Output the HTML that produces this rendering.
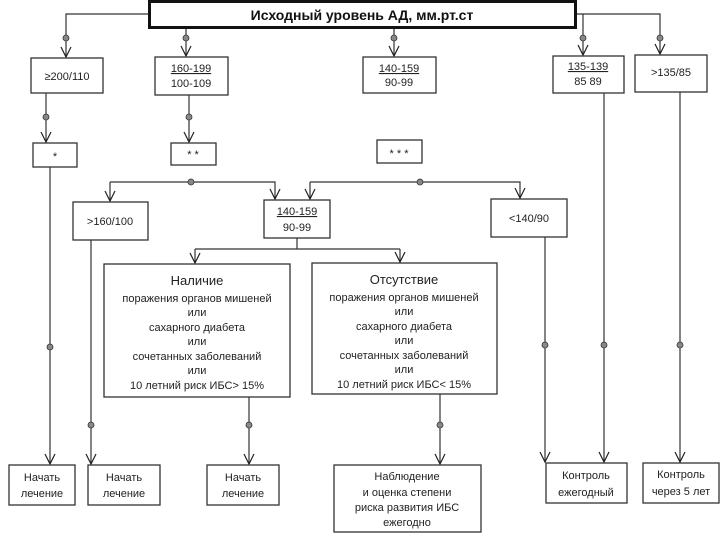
<!DOCTYPE html>
<html><head><meta charset="utf-8"><style>
html,body{margin:0;padding:0;background:#fff;}
svg{display:block}
text{font-family:"Liberation Sans Narrow","Liberation Sans",sans-serif;fill:#222;font-size:11px;text-anchor:middle}
</style></head><body>
<svg width="720" height="540" viewBox="0 0 720 540" xmlns="http://www.w3.org/2000/svg">
<defs>
<marker id="a" markerWidth="14" markerHeight="14" refX="11" refY="6" orient="auto" markerUnits="userSpaceOnUse">
<path d="M1,1 L11,6 L1,11" fill="none" stroke="#222" stroke-width="1.2"/>
</marker>
</defs>
<g fill="none" stroke="#333" stroke-width="1.2">
<path d="M148,14 H66 V57" marker-end="url(#a)"/>
<path d="M186,29 V56" marker-end="url(#a)"/>
<path d="M394,29 V56" marker-end="url(#a)"/>
<path d="M583,14 V55" marker-end="url(#a)"/>
<path d="M577,14 H660 V54" marker-end="url(#a)"/>
<path d="M46,93 V142" marker-end="url(#a)"/>
<path d="M189,95 V142" marker-end="url(#a)"/>
<path d="M110,182 H275 V199" marker-end="url(#a)"/>
<path d="M110,182 V201" marker-end="url(#a)"/>
<path d="M310,182 H520 V198" marker-end="url(#a)"/>
<path d="M310,182 V199" marker-end="url(#a)"/>
<path d="M297,238 V249 M195,249 H400"/>
<path d="M195,249 V263" marker-end="url(#a)"/>
<path d="M400,249 V262" marker-end="url(#a)"/>
<path d="M50,167 V464" marker-end="url(#a)"/>
<path d="M91,240 V464" marker-end="url(#a)"/>
<path d="M249,397 V464" marker-end="url(#a)"/>
<path d="M440,394 V464" marker-end="url(#a)"/>
<path d="M545,237 V462" marker-end="url(#a)"/>
<path d="M604,93 V462" marker-end="url(#a)"/>
<path d="M680,92 V462" marker-end="url(#a)"/>
</g>
<g fill="#888" stroke="#333" stroke-width="0.8">
<circle cx="66" cy="38" r="3"/><circle cx="186" cy="38" r="3"/><circle cx="394" cy="38" r="3"/>
<circle cx="583" cy="38" r="3"/><circle cx="660" cy="38" r="3"/>
<circle cx="46" cy="117" r="3"/><circle cx="189" cy="117" r="3"/>
<circle cx="191" cy="182" r="3"/><circle cx="420" cy="182" r="3"/>
<circle cx="50" cy="347" r="3"/><circle cx="545" cy="345" r="3"/><circle cx="604" cy="345" r="3"/><circle cx="680" cy="345" r="3"/>
<circle cx="91" cy="425" r="3"/><circle cx="249" cy="425" r="3"/><circle cx="440" cy="425" r="3"/>
</g>
<g fill="#fff" stroke="#333" stroke-width="1.3">
<rect x="149.5" y="1.5" width="426" height="26" stroke-width="3" stroke="#111"/>
<rect x="31" y="58" width="72" height="35"/>
<rect x="155" y="57" width="73" height="38"/>
<rect x="363" y="57" width="73" height="36"/>
<rect x="553" y="56" width="71" height="37"/>
<rect x="635" y="55" width="72" height="37"/>
<rect x="33" y="143" width="44" height="24"/>
<rect x="171" y="143" width="45" height="22"/>
<rect x="377" y="140" width="45" height="23"/>
<rect x="73" y="202" width="75" height="38"/>
<rect x="264" y="200" width="66" height="38"/>
<rect x="491" y="199" width="76" height="38"/>
<rect x="104" y="264" width="186" height="133"/>
<rect x="312" y="263" width="185" height="131"/>
<rect x="9" y="465" width="66" height="40"/>
<rect x="88" y="465" width="72" height="40"/>
<rect x="207" y="465" width="72" height="40"/>
<rect x="334" y="465" width="147" height="67"/>
<rect x="546" y="463" width="81" height="40"/>
<rect x="643" y="463" width="76" height="40"/>
</g>
<text x="362" y="20" style="font-family:'Liberation Sans',sans-serif;font-weight:bold;font-size:14px;fill:#111">Исходный уровень АД, мм.рт.ст</text>
<text x="67" y="80">≥200/110</text>
<text x="191" y="72" text-decoration="underline">160-199</text><text x="191" y="87">100-109</text>
<text x="399" y="72" text-decoration="underline">140-159</text><text x="399" y="86">90-99</text>
<text x="588" y="70" text-decoration="underline">135-139</text><text x="588" y="85">85 89</text>
<text x="671" y="76">&gt;135/85</text>
<text x="55" y="160">*</text><text x="193" y="158">* *</text><text x="399" y="157">* * *</text>
<text x="110" y="225">&gt;160/100</text>
<text x="297" y="215" text-decoration="underline">140-159</text><text x="297" y="231">90-99</text>
<text x="529" y="222">&lt;140/90</text>
<text x="197" y="285" style="font-size:13px">Наличие</text>
<text x="197" y="302">поражения органов мишеней</text><text x="197" y="316">или</text>
<text x="197" y="331">сахарного диабета</text><text x="197" y="345">или</text>
<text x="197" y="360">сочетанных заболеваний</text><text x="197" y="374">или</text>
<text x="197" y="389">10 летний риск ИБС&gt; 15%</text>
<text x="404" y="284" style="font-size:13px">Отсутствие</text>
<text x="404" y="301">поражения органов мишеней</text><text x="404" y="315">или</text>
<text x="404" y="330">сахарного диабета</text><text x="404" y="344">или</text>
<text x="404" y="359">сочетанных заболеваний</text><text x="404" y="373">или</text>
<text x="404" y="388">10 летний риск ИБС&lt; 15%</text>
<text x="42" y="481">Начать</text><text x="42" y="497">лечение</text>
<text x="124" y="481">Начать</text><text x="124" y="497">лечение</text>
<text x="243" y="481">Начать</text><text x="243" y="497">лечение</text>
<text x="407" y="480">Наблюдение</text><text x="407" y="496">и оценка степени</text>
<text x="407" y="511">риска развития ИБС</text><text x="407" y="526">ежегодно</text>
<text x="586" y="479">Контроль</text><text x="586" y="496">ежегодный</text>
<text x="681" y="478">Контроль</text><text x="681" y="495">через 5 лет</text>
</svg>
</body></html>
